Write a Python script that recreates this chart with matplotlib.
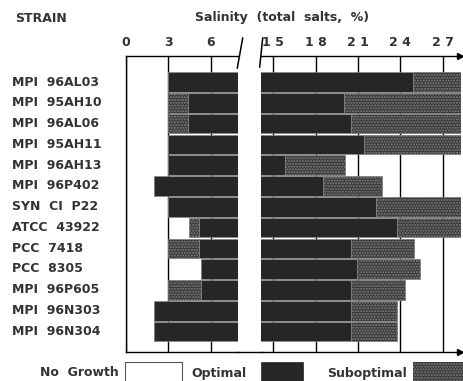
import matplotlib
matplotlib.use("Agg")
import matplotlib.pyplot as plt
import numpy as np
from matplotlib.patches import Rectangle
from matplotlib.lines import Line2D

# Strains and growth ranges over salinity (total salts, %)
strains = ["MPI  96AL03", "MPI  95AH10", "MPI  96AL06", "MPI  95AH11", "MPI  96AH13",
           "MPI  96P402", "SYN  CI  P22", "ATCC  43922", "PCC  7418", "PCC  8305",
           "MPI  96P605", "MPI  96N303", "MPI  96N304"]
sub_low = [3.0, 3.0, 3.0, 3.0, 3.0, 2.0, 3.0, 4.5, 3.0, 5.3, 3.0, 2.0, 2.0]
opt_low = [3.0, 4.4, 4.4, 3.0, 3.0, 2.0, 3.0, 5.2, 5.2, 5.3, 5.3, 2.0, 2.0]
opt_high = [24.9, 20.0, 20.5, 21.4, 15.8, 18.5, 22.3, 23.8, 20.5, 20.9, 20.5, 20.5, 20.5]
sub_high = [28.3, 28.3, 28.3, 28.3, 20.1, 22.7, 28.3, 28.3, 25.0, 25.4, 24.3, 23.8, 23.8]

ticks_low = [0, 3, 6]
ticks_high = [15, 18, 21, 24, 27]

W, H = 463, 381
fig = plt.figure(figsize=(W / 100, H / 100), dpi=100)

TXT = "#333333"
DARK = "#262626"
STIP_FACE = "#383838"
STIP_DOT = "#808080"
plt.rcParams["hatch.linewidth"] = 1.0
FONT = "DejaVu Sans"
FS = 9


def fx(px):
    return px / W


def fy(py):
    return 1 - py / H


top_px, bot_px = 56, 352
ax_l = fig.add_axes([fx(126), fy(bot_px), fx(238 - 126), (bot_px - top_px) / H])
ax_r = fig.add_axes([fx(261), fy(bot_px), fx(461 - 261), (bot_px - top_px) / H])

n = len(strains)
y = np.arange(n)
bar_h = 0.94

for ax, xlim, ticks in [(ax_l, (0, 7.95), ticks_low), (ax_r, (14.13, 28.3), ticks_high)]:
    ax.set_xlim(*xlim)
    ax.set_ylim(n - 0.5 + 0.48, -1.25)
    for t in ticks:
        ax.axvline(t, color="black", lw=1.0, zorder=1)
    # suboptimal ranges on the low and high salinity sides
    lw_sub = [o - s for s, o in zip(sub_low, opt_low)]
    hi_sub = [s - o for o, s in zip(opt_high, sub_high)]
    ax.barh(y, lw_sub, left=sub_low, height=bar_h, color=STIP_FACE,
            edgecolor=STIP_DOT, hatch="......", lw=0.5, zorder=2)
    ax.barh(y, hi_sub, left=opt_high, height=bar_h, color=STIP_FACE,
            edgecolor=STIP_DOT, hatch="......", lw=0.5, zorder=2)
    # optimal range
    ax.barh(y, [h - l for l, h in zip(opt_low, opt_high)], left=opt_low,
            height=bar_h, color=DARK, edgecolor="#8a8a8a", lw=0.5, zorder=3)
    ax.set_xticks(ticks)
    ax.set_xticklabels([str(t) for t in ticks], fontsize=FS, fontweight="bold",
                       color=TXT, family=FONT)
    ax.xaxis.tick_top()
    ax.tick_params(axis="x", length=0, pad=5)
    ax.set_yticks([])
    for s in ax.spines.values():
        s.set_color("black")
        s.set_linewidth(1.0)
    ax.spines["right"].set_visible(False)

ax_r.spines["left"].set_visible(False)
ax_r.set_xticklabels(["1 5", "1 8", "2 1", "2 4", "2 7"])

# continuous bottom axis across the break, with arrowheads
fig.add_artist(Line2D([fx(237), fx(262)], [fy(bot_px), fy(bot_px)], color="black", lw=1.0))
for py in (top_px, bot_px):
    fig.add_artist(Line2D([fx(460)], [fy(py)], marker=">", color="black",
                          markersize=5, lw=0))

# break marks on the top axis
fig.add_artist(Line2D([fx(237.3), fx(242.7)], [fy(68), fy(38)], color="black", lw=1.1))
fig.add_artist(Line2D([fx(259.7), fx(262.7)], [fy(67), fy(38)], color="black", lw=1.1))

# strain labels
for i, s in enumerate(strains):
    fig.text(fx(12), fy(82 + i * 20.77), s, ha="left", va="center",
             fontsize=FS, fontweight="bold", color=TXT, family=FONT)

fig.text(fx(15), fy(18), "STRAIN", ha="left", va="center", fontsize=FS,
         fontweight="bold", color=TXT, family=FONT)
fig.text(fx(282), fy(18), "Salinity  (total  salts,  %)", ha="center", va="center",
         fontsize=FS, fontweight="bold", color=TXT, family=FONT)

# legend
leg_y = 373
fig.text(fx(119), fy(leg_y), "No  Growth", ha="right", va="center", fontsize=FS,
         fontweight="bold", color=TXT, family=FONT)
fig.add_artist(Rectangle((fx(125), fy(383)), fx(57), (383 - 362) / H,
                         facecolor="white", edgecolor="#555555", lw=0.8))
fig.text(fx(191), fy(leg_y), "Optimal", ha="left", va="center", fontsize=FS,
         fontweight="bold", color=TXT, family=FONT)
fig.add_artist(Rectangle((fx(261), fy(383)), fx(42), (383 - 362) / H,
                         facecolor=DARK, edgecolor=DARK, lw=0.5))
fig.text(fx(327), fy(leg_y), "Suboptimal", ha="left", va="center", fontsize=FS,
         fontweight="bold", color=TXT, family=FONT)
fig.add_artist(Rectangle((fx(413), fy(383)), fx(52), (383 - 362) / H,
                         facecolor=STIP_FACE, edgecolor=STIP_DOT, hatch="......", lw=0))

fig.savefig("out.png", dpi=100)
